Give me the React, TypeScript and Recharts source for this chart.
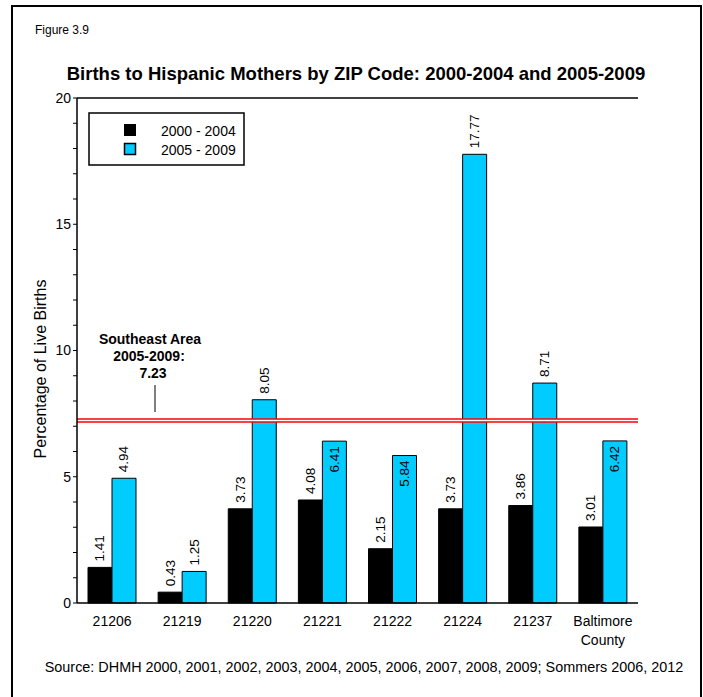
import React from "react";
import {
  BarChart,
  Bar,
  XAxis,
  YAxis,
  ReferenceLine,
  LabelList,
} from "recharts";

const categories = ["21206", "21219", "21220", "21221", "21222", "21224", "21237", "Baltimore County"];
const series2000_2004 = [1.41, 0.43, 3.73, 4.08, 2.15, 3.73, 3.86, 3.01];
const series2005_2009 = [4.94, 1.25, 8.05, 6.41, 5.84, 17.77, 8.71, 6.42];
const southeastArea = 7.23;
const yTicks = Array.from({ length: 21 }, (_, i) => i);
const yMajor = [0, 5, 10, 15, 20];

const data = categories.map((c, i) => ({
  zip: c,
  a: series2000_2004[i],
  b: series2005_2009[i],
}));

const FONT = "'Liberation Sans', Arial, sans-serif";

const RotLabel = (props: any) => {
  const { x, y, width, value } = props;
  const cx = x + width / 2;
  const inside = value < southeastArea && value > southeastArea - 1.5;
  const cy = inside ? y + 5 : y - 6;
  return (
    <text
      x={cx}
      y={cy}
      transform={`rotate(-90 ${cx} ${cy})`}
      textAnchor={inside ? "end" : "start"}
      dominantBaseline="central"
      fontSize={13.5}
      fontFamily={FONT}
      fill="#000"
    >
      {Number(value).toFixed(2)}
    </text>
  );
};

const XTick = (props: any) => {
  const { x, y, payload } = props;
  const v: string = payload.value;
  const lines = /^\d+$/.test(v) ? [v] : v.split(" ");
  return (
    <text x={x} y={y + 15} textAnchor="middle" fontSize={14} fontFamily={FONT} fill="#000">
      {lines.map((l, i) => (
        <tspan key={i} x={x} dy={i === 0 ? 0 : 19}>
          {l}
        </tspan>
      ))}
    </text>
  );
};

export default function App() {
  return (
    <div style={{ position: "absolute", left: 0, top: 0, width: 703, height: 697, background: "#fff" }}>
      <div
        style={{
          position: "absolute",
          left: 11,
          top: 5,
          width: 691,
          height: 700,
          border: "2px solid #000",
          boxSizing: "border-box",
        }}
      />
      <div style={{ position: "absolute", left: 0, top: 0 }}>
        <BarChart
          width={703}
          height={697}
          data={data}
          margin={{ top: 98, right: 65, bottom: 64, left: 37 }}
          barCategoryGap={11}
          barGap={0}
        >
          <XAxis
            dataKey="zip"
            xAxisId="bottom"
            tick={<XTick />}
            tickLine={false}
            axisLine={{ stroke: "#000", strokeWidth: 1.5 }}
            interval={0}
            height={30}
          />
          <YAxis
            yAxisId="left"
            domain={[0, 20]}
            ticks={yTicks}
            interval={0}
            tickSize={4}
            tickLine={{ stroke: "#000" }}
            axisLine={{ stroke: "#000", strokeWidth: 1.5 }}
            tickFormatter={(v: number) => (yMajor.includes(v) ? String(v) : "")}
            tick={{ fontSize: 14, fontFamily: FONT, fill: "#000" }}
            width={40}
          />
          <YAxis
            yAxisId="right"
            orientation="right"
            domain={[0, 20]}
            ticks={yTicks}
            interval={0}
            mirror
            tickSize={3}
            tick={false}
            tickLine={{ stroke: "#000" }}
            axisLine={{ stroke: "#000", strokeWidth: 1.5 }}
            width={0}
          />
          <Bar
            dataKey="a"
            xAxisId="bottom"
            yAxisId="left"
            fill="#000000"
            stroke="#000"
            strokeWidth={1}
            isAnimationActive={false}
          >
            <LabelList dataKey="a" content={<RotLabel />} />
          </Bar>
          <Bar
            dataKey="b"
            xAxisId="bottom"
            yAxisId="left"
            fill="#00CCFF"
            stroke="#000"
            strokeWidth={1}
            isAnimationActive={false}
          >
            <LabelList dataKey="b" content={<RotLabel />} />
          </Bar>
          <ReferenceLine
            y={southeastArea}
            xAxisId="bottom"
            yAxisId="left"
            stroke="#FF0000"
            strokeWidth={4.5}
          />
          <ReferenceLine
            y={southeastArea}
            xAxisId="bottom"
            yAxisId="left"
            stroke="#FFFFFF"
            strokeWidth={1.5}
          />
          <ReferenceLine
            y={20}
            xAxisId="bottom"
            yAxisId="left"
            stroke="#000"
            strokeWidth={1.5}
          />
        </BarChart>
      </div>
      <svg
        width={703}
        height={697}
        style={{ position: "absolute", left: 0, top: 0, pointerEvents: "none" }}
        fontFamily={FONT}
      >
        <text x={35} y={34} fontSize={12} fill="#000">Figure 3.9</text>
        <text x={356} y={80} fontSize={18.5} fontWeight="bold" textAnchor="middle" fill="#000">
          Births to Hispanic Mothers by ZIP Code: 2000-2004 and 2005-2009
        </text>
        <text
          x={46}
          y={369}
          fontSize={16}
          textAnchor="middle"
          transform="rotate(-90 46 369)"
          fill="#000"
        >
          Percentage of Live Births
        </text>
        <rect x={89} y={113} width={155} height={52} fill="#fff" stroke="#000" strokeWidth={1.5} />
        <rect x={124.5} y={124.5} width={11} height={11} fill="#000" stroke="#000" />
        <rect x={124.5} y={143.5} width={11} height={11} fill="#00CCFF" stroke="#000" strokeWidth={1.5} />
        <text x={161} y={136} fontSize={14} fill="#000">2000 - 2004</text>
        <text x={161} y={155} fontSize={14} fill="#000">2005 - 2009</text>
        <text x={150} y={344} fontSize={14} fontWeight="bold" textAnchor="middle" fill="#000">Southeast Area</text>
        <text x={149} y={361} fontSize={14} fontWeight="bold" textAnchor="middle" fill="#000">2005-2009:</text>
        <text x={153} y={378} fontSize={14} fontWeight="bold" textAnchor="middle" fill="#000">{southeastArea.toFixed(2)}</text>
        <line x1={155} y1={385} x2={155} y2={412} stroke="#000" strokeWidth={1} />
        <text x={364} y={672} fontSize={14.4} textAnchor="middle" fill="#000">
          Source: DHMH 2000, 2001, 2002, 2003, 2004, 2005, 2006, 2007, 2008, 2009; Sommers 2006, 2012
        </text>
      </svg>
    </div>
  );
}
